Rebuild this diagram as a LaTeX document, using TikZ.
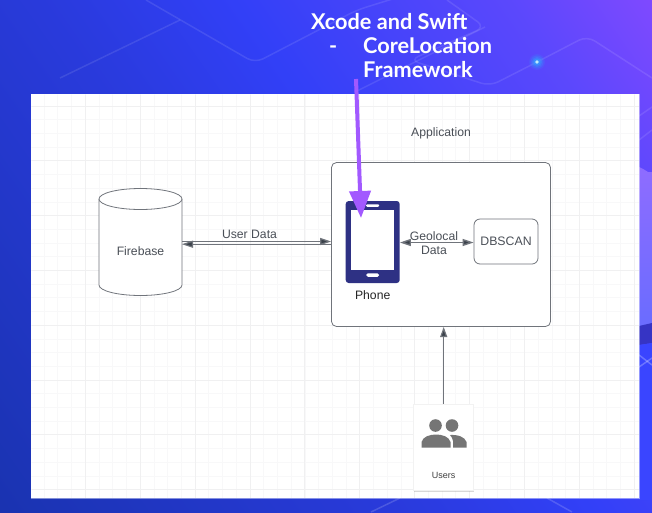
\documentclass[tikz,border=0pt]{standalone}
\usepackage{fontspec}
\setmainfont{Liberation Sans}
\newfontfamily\headfont{Lato}
\usetikzlibrary{arrows.meta,shapes.geometric,calc,shadows,fadings}
\definecolor{linegrey}{HTML}{70747B}
\definecolor{arrowdark}{HTML}{3A414A}
\definecolor{phoneblue}{HTML}{2E3184}
\definecolor{pointer}{HTML}{A259FF}
\definecolor{labelgrey}{HTML}{4A4F57}
\definecolor{gridminor}{HTML}{F8F8F9}
\definecolor{gridmajor}{HTML}{F0F0F1}
\definecolor{iconGrey}{HTML}{757575}
\definecolor{bandLightT}{HTML}{8D6CFF}
\definecolor{bandLightB}{HTML}{6A6CFF}
\definecolor{bandDark}{HTML}{3634C4}
\definecolor{bandBlue}{HTML}{3A45FF}
\definecolor{glow}{HTML}{2FA8FF}
\pgfdeclarehorizontalshading{bgshade}{100bp}{
  rgb(0bp)=(0.09,0.18,0.66);
  rgb(15bp)=(0.10,0.20,0.69);
  rgb(44bp)=(0.165,0.23,0.87);
  rgb(56bp)=(0.196,0.25,0.97);
  rgb(75bp)=(0.357,0.282,0.99);
  rgb(85bp)=(0.50,0.286,1);
  rgb(100bp)=(0.50,0.286,1)}
\tikzset{
  deco/.style={draw=white,opacity=0.10,line width=1.5pt,rounded corners=9pt},
  boxline/.style={draw=linegrey,line width=0.8pt,fill=white},
  link/.style={draw=linegrey,line width=1.2pt},
  lbl/.style={font=\fontsize{12.2}{14}\selectfont,text=labelgrey,align=center,inner sep=0pt},
  head/.style={font=\headfont\bfseries\fontsize{21.7}{24}\selectfont,text=white,anchor=base west,inner sep=0pt}
}
\begin{document}
\begin{tikzpicture}[x=1pt,y=-1pt]
\useasboundingbox (0,0) rectangle (652,512);
% background
\shade[shading=bgshade,shading angle=35] (0,0) rectangle (652,512);
\fill[bandLightT] (639,167) .. controls (644,169) and (648,172) .. (652,175) -- (652,250) -- (639,250) -- cycle;
\shade[top color=bandLightT,bottom color=bandLightB] (639,172) rectangle (652,326);
\fill[bandDark] (639,326) -- (652,323) -- (652,343) -- (639,345) -- cycle;
\fill[bandBlue] (639,345) -- (652,343) -- (652,500) -- (639,500) -- cycle;
\draw[deco] (60,78) -- (180,20);
\draw[deco] (146,0) -- (255,63) -- (357,10) -- (415,-8);
\draw[deco] (447,0) -- (485,27) -- (410,60) -- (490,86) -- (537,62) -- (587,36) -- (652,78);
\draw[deco] (485,27) -- (355,92);
\draw[deco,rounded corners=0pt] (639,116) -- (652,107);
\draw[deco,rounded corners=0pt] (639,140) -- (652,130);
\draw[deco,opacity=.25,rounded corners=0pt] (639,355) -- (652,365);
\draw[deco,opacity=.25,rounded corners=0pt] (639,367) -- (652,358);
\draw[deco,opacity=.16,rounded corners=0pt] (371,512) -- (400,498);
\draw[deco,opacity=.16,rounded corners=0pt] (547,498) -- (572,512);
\foreach \r/\o in {8/0.12,6.5/0.2,5/0.3,3.5/0.45} \fill[glow,opacity=\o] (537,62) circle (\r pt);
\fill[cyan!25!white] (537,62) circle (1.8pt);
% panel
\fill[white] (31,94) rectangle (639,498);
\begin{scope}
\clip (31,94) rectangle (639,498);
\foreach \i in {0,...,44} \draw[gridminor,line width=0.8pt] ({30.4+13.725*\i},94) -- ({30.4+13.725*\i},498);
\foreach \i in {-1,...,29} \draw[gridminor,line width=0.8pt] (31,{106+13.7*\i}) -- (639,{106+13.7*\i});
\foreach \i in {0,...,11} \draw[gridmajor,line width=0.9pt] ({30.4+54.9*\i},94) -- ({30.4+54.9*\i},498);
\foreach \i in {0,...,7} \draw[gridmajor,line width=0.9pt] (31,{106+54.8*\i}) -- (639,{106+54.8*\i});
\end{scope}
\draw[white,opacity=.45,line width=0.9pt] (31,94) rectangle (639,498);
% application box
\node[boxline,rounded corners=5pt,minimum width=219pt,minimum height=164pt,inner sep=0pt] (app) at (441,244.5) {};
\node[lbl] (applabel) at (441,133) {Application};
% firebase
\coordinate (fbc) at (140.5,199);
\draw[boxline] (99,199) -- (99,285) arc[start angle=180,end angle=360,x radius=41.5,y radius=-10.5] -- (182,199);
\draw[boxline] (fbc) ellipse[x radius=41.5,y radius=10.5];
\node[lbl,inner sep=0pt] (firebase) at (140.5,251) {Firebase};
\coordinate (fbt) at (182,241.5);
\coordinate (fbb) at (182,244.2);
% phone
\node[fill=phoneblue,rounded corners=3pt,minimum width=54pt,minimum height=82pt,inner sep=0pt] (phone) at (372.7,242) {};
\node[fill=white,minimum width=43pt,minimum height=60pt,inner sep=0pt] (screen) at (372.7,240) {};
\node[fill=white,rounded corners=1pt,minimum width=13pt,minimum height=2.5pt,inner sep=0pt] (phonetop) at (372.7,205.5) {};
\node[fill=white,rounded corners=1.7pt,minimum width=13pt,minimum height=3.5pt,inner sep=0pt] (phonebtn) at (372.7,275) {};
\node[lbl,text=black!85] (phonelabel) at (372.7,295) {Phone};
% dbscan
\node[boxline,rounded corners=6pt,minimum width=64pt,minimum height=45pt,inner sep=0pt,text=labelgrey,font=\fontsize{12.3}{14}\selectfont] (db) at (506,241.5) {DBSCAN};
% users card
\node[fill=white,draw=black!5,line width=0.5pt,drop shadow={shadow xshift=0pt,shadow yshift=-1pt,opacity=0.3},minimum width=60pt,minimum height=86.5pt,inner sep=0pt] (users) at (443.7,447.3) {};
\fill[iconGrey] (435.5,425.5) circle (6.3pt);
\fill[iconGrey] (452,425.5) circle (6.3pt);
\fill[iconGrey] (421.5,447.5) -- (421.5,442) .. controls (423,436.5) and (430,434.5) .. (436,434.5) .. controls (442,434.5) and (449,436.5) .. (450.5,442) -- (450.5,447.5) -- cycle;
\fill[iconGrey] (453,447.5) -- (453,441) .. controls (452.5,438.5) and (451.5,436.5) .. (450,435) .. controls (458,434.5) and (465,437) .. (466.5,442) -- (466.5,447.5) -- cycle;
\node[font=\fontsize{9}{11}\selectfont,text=black!75,inner sep=0pt] (userslabel) at (443.7,475) {Users};
% connectors
\draw[link,-{Triangle[length=11pt,width=7pt,fill=arrowdark]}] (fbt) -- (app.west |- fbt);
\draw[link,{Triangle[length=11pt,width=7pt,fill=arrowdark]}-] (fbb) -- (app.west |- fbb);
\node[lbl] (userdata) at (249.5,234) {User Data};
\draw[link,line width=1.4pt,{Triangle[length=11pt,width=7pt,fill=arrowdark]}-{Triangle[length=11pt,width=7pt,fill=arrowdark]}] (phone.east |- 0,242.5) -- (db.west |- 0,242.5);
\node[lbl] (geo) at (434,243) {Geolocal\\Data};
\draw[link,-{Triangle[length=10pt,width=7pt,fill=arrowdark]}] (users.north) -- (443.7,327);
% pointer
\coordinate (ptrstart) at (356,79);
\coordinate (ptrend) at (361,218);
\draw[pointer,line width=4pt,-{Triangle[length=27pt,width=21pt,fill=pointer]}] (ptrstart) -- (ptrend);
% heading
\node[head] (h1) at (311,29) {Xcode and Swift};
\node[head] (h2) at (329,53) {-};
\node[head] (h3) at (363,53) {CoreLocation};
\node[head] (h4) at (363,77) {Framework};
\end{tikzpicture}
\end{document}
